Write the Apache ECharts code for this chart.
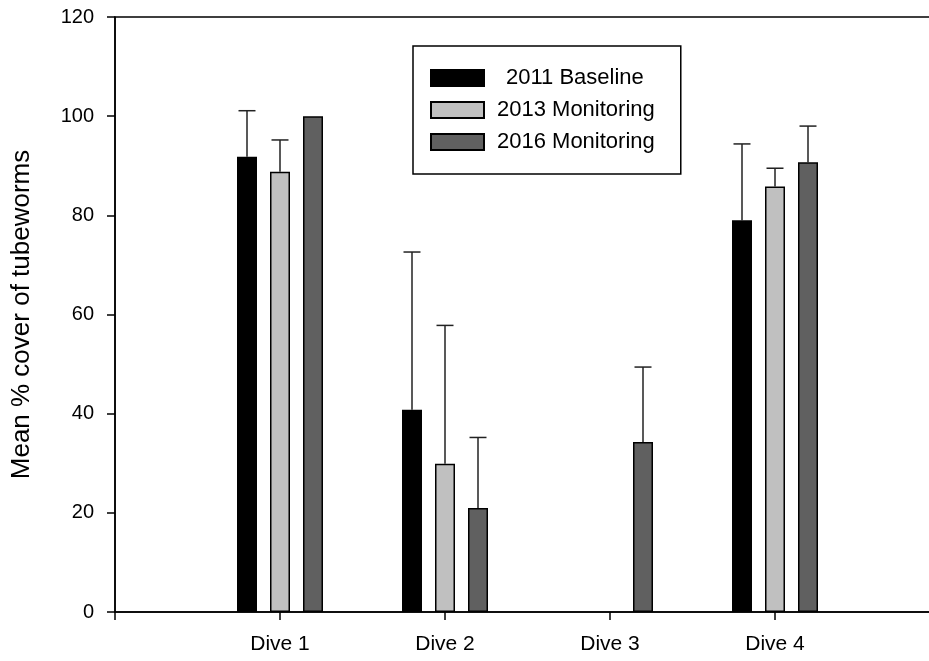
<!DOCTYPE html>
<html>
<head>
<meta charset="utf-8">
<script src="https://cdn.jsdelivr.net/npm/echarts@6/dist/echarts.min.js"></script>
<style>html,body{margin:0;padding:0;background:#fff}#c{width:929px;height:661px}</style>
</head>
<body>
<div id="c"></div>
<script>
// ---- data ----
const categories = ['', 'Dive 1', 'Dive 2', 'Dive 3', 'Dive 4', ''];
const seriesNames = ['2011 Baseline', '2013 Monitoring', '2016 Monitoring'];
const baseline2011 = [91.8, 40.8, null, 79.0];
const monitoring2013 = [88.8, 29.9, null, 85.8];
const monitoring2016 = [100, 21.0, 34.3, 90.7];
const baseline2011Err = [9.3, 31.8, null, 15.4];
const monitoring2013Err = [6.4, 27.9, null, 3.7];
const monitoring2016Err = [null, 14.2, 15.1, 7.3];
const yTicks = [0, 20, 40, 60, 80, 100, 120];

// ---- style ----
const FONT = 'Liberation Sans, Arial, sans-serif';
const BAR_W = 20;
const BAR_GAP = 0.65;
const STEP = BAR_W * (1 + BAR_GAP);
const colors = ['#000000', '#c0c0c0', '#606060'];

const pad = arr => [null, ...arr, null];

function barSeries(name, vals, color) {
  return {
    name, type: 'bar', data: pad(vals), barWidth: BAR_W, barGap: (BAR_GAP * 100) + '%',
    itemStyle: { color, borderColor: '#000', borderWidth: 1.5 },
    silent: true, animation: false
  };
}

function errSeries(vals, errs, slot) {
  const data = [];
  vals.forEach((v, i) => {
    if (v != null && errs[i] != null) data.push([i + 1, v, errs[i]]);
  });
  return {
    type: 'custom', data, silent: true, animation: false, z: 1,
    renderItem(params, api) {
      const c = api.value(0), v = api.value(1), e = api.value(2);
      const p0 = api.coord([c, v]);
      const p1 = api.coord([c, v + e]);
      const x = p0[0] + slot * STEP;
      const half = 8.5;
      return {
        type: 'group',
        children: [
          { type: 'line', shape: { x1: x, y1: p0[1], x2: x, y2: p1[1] }, style: { stroke: '#222', lineWidth: 1.5 } },
          { type: 'line', shape: { x1: x - half, y1: p1[1], x2: x + half, y2: p1[1] }, style: { stroke: '#222', lineWidth: 1.5 } }
        ]
      };
    }
  };
}

const chart = echarts.init(document.getElementById('c'), null, { renderer: 'canvas' });
chart.setOption({
  backgroundColor: '#fff',
  animation: false,
  textStyle: { fontFamily: FONT },
  grid: { left: 115, width: 825, top: 17, bottom: 49, outerBoundsMode: 'none', containLabel: false,
          show: true, borderColor: '#000', borderWidth: 1.5, backgroundColor: 'transparent' },
  legend: {
    data: seriesNames,
    orient: 'vertical',
    left: 413, top: 46,
    padding: [21, 26, 21, 17],
    itemGap: 10,
    itemWidth: 53, itemHeight: 16,
    borderColor: '#000', borderWidth: 1.5,
    icon: 'rect',
    selectedMode: false,
    formatter: n => n === seriesNames[0] ? '{ind|' + n + '}' : n,
    textStyle: {
      fontFamily: FONT, fontSize: 22, color: '#000', padding: [0, 0, 0, 8],
      rich: { ind: { fontFamily: FONT, fontSize: 22, color: '#000', padding: [0, 0, 0, 9] } }
    }
  },
  xAxis: {
    type: 'category', data: categories, boundaryGap: false,
    axisLine: { show: true, lineStyle: { color: '#000', width: 1.5 } },
    axisTick: { show: true, length: 8, lineStyle: { color: '#000', width: 1.5 } },
    axisLabel: { fontFamily: FONT, fontSize: 21, color: '#000', margin: 22, interval: 0 },
    splitLine: { show: false }
  },
  yAxis: {
    type: 'value', min: yTicks[0], max: yTicks[yTicks.length - 1], interval: yTicks[1] - yTicks[0],
    name: 'Mean % cover of tubeworms', nameLocation: 'middle', nameGap: 80,
    nameTextStyle: { fontFamily: FONT, fontSize: 26, color: '#000' },
    axisLine: { show: true, lineStyle: { color: '#000', width: 1.5 } },
    axisTick: { show: true, length: 8, lineStyle: { color: '#000', width: 1.5 } },
    axisLabel: { fontFamily: FONT, fontSize: 20, color: '#000', margin: 21 },
    splitLine: { show: false }
  },
  series: [
    barSeries(seriesNames[0], baseline2011, colors[0]),
    barSeries(seriesNames[1], monitoring2013, colors[1]),
    barSeries(seriesNames[2], monitoring2016, colors[2]),
    errSeries(baseline2011, baseline2011Err, -1),
    errSeries(monitoring2013, monitoring2013Err, 0),
    errSeries(monitoring2016, monitoring2016Err, 1)
  ]
});
</script>
</body>
</html>
